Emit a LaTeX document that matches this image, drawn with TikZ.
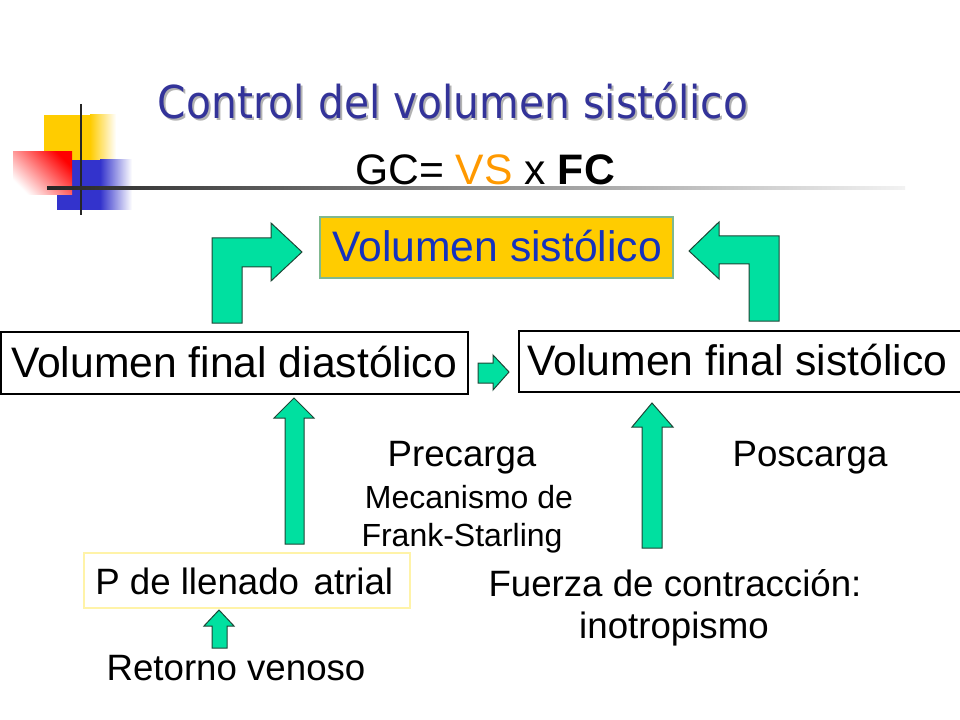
\documentclass[tikz,border=0pt]{standalone}
\usepackage{fontspec}
\setmainfont{Liberation Sans}
\newfontfamily\titlefont{DejaVu Sans}[FakeStretch=0.9]
\usetikzlibrary{shadings}

\definecolor{titleblue}{HTML}{333399}
\definecolor{vsgold}{HTML}{FFCC00}
\definecolor{vsblue}{HTML}{1432BE}
\definecolor{vsedge}{HTML}{7FB890}
\definecolor{arrowfill}{HTML}{00E0A0}
\definecolor{arrowedge}{HTML}{1E4636}
\definecolor{vsorange}{HTML}{FF9900}
\definecolor{decoblue}{HTML}{3333CC}
\definecolor{pedge}{HTML}{FFF3A8}

\begin{document}
\begin{tikzpicture}[x=0.75pt,y=-0.75pt,
  bigtext/.style={font=\fontsize{32}{38}\selectfont, inner sep=0pt, anchor=base},
  midtext/.style={font=\fontsize{27.5}{33}\selectfont, inner sep=0pt, anchor=base},
  smalltext/.style={font=\fontsize{24}{29}\selectfont, inner sep=0pt, anchor=base},
  titletext/.style={font=\titlefont\fontsize{34}{40}\selectfont, inner sep=0pt, anchor=base},
  boxframe/.style={draw=black, line width=1.2pt},
  blockarrow/.style={fill=arrowfill, draw=arrowedge, line width=0.75pt}]
  \useasboundingbox (0,0) rectangle (960,720);

  % corner decoration
  \fill[vsgold] (44,115) rectangle (90,160);
  \shade[left color=vsgold, right color=white] (90,115) rectangle (116,160);
  \fill[decoblue] (57,160) rectangle (100,210);
  \shade[left color=decoblue, right color=white] (100,160) rectangle (132,210);
  \shade[bottom color=white, top color=red, shading angle=-45] (13,152) rectangle (72,195);
  \draw[black!85, line width=2pt] (81,104) -- (81,215);
  \shade[left color=black!85, right color=black!5] (47,186.5) rectangle (905,189.5);

  % title
  \node[titletext, text=black!30] (titleshadow) at (455,121) {Control del volumen sistólico};
  \node[titletext, text=titleblue] (title) at (453,119) {Control del volumen sistólico};
  \node[bigtext] (gc) at (485,185) {GC= \textcolor{vsorange}{VS} x \textbf{FC}};

  % boxes
  \draw[fill=vsgold, draw=vsedge, line width=0.9pt] (320,217) rectangle (673,278);
  \node[bigtext, text=vsblue] (vs) at (497,262) {Volumen sistólico};
  \draw[boxframe] (1,332) rectangle (468,394);
  \node[bigtext] (vfd) at (234,377) {Volumen final diastólico};
  \draw[boxframe] (960,331) -| (519,392) -- (960,392);
  \node[bigtext] (vfs) at (737.5,375) {Volumen final sistólico};
  \draw[draw=pedge, line width=0.9pt] (84,553) rectangle (410,608);
  \node[midtext, anchor=base west] (pla) at (95,594) {P de llenado\hspace{0.12em} atrial};

  % block arrows
  \draw[blockarrow] (212,323) -- (212,238) -- (271,238) -- (271,223) -- (302,252) -- (271,281) -- (271,267) -- (242,267) -- (242,323) -- cycle;
  \draw[blockarrow] (779,321) -- (779,236) -- (719,236) -- (719,222) -- (689,251) -- (719,279) -- (719,264) -- (749,264) -- (749,321) -- cycle;
  \draw[blockarrow] (478,363) -- (493,363) -- (493,355) -- (509,372) -- (493,390) -- (493,383) -- (478,383) -- cycle;
  \draw[blockarrow] (285,544) -- (285,418) -- (274,418) -- (294,398) -- (314,418) -- (304,418) -- (304,544) -- cycle;
  \draw[blockarrow] (642,548) -- (642,427) -- (632,427) -- (652,403) -- (673,427) -- (662,427) -- (662,548) -- cycle;
  \draw[blockarrow] (212,648) -- (212,626) -- (204,626) -- (219,610) -- (234,626) -- (227,626) -- (227,648) -- cycle;

  % labels
  \node[midtext] (precarga) at (462,466) {Precarga};
  \node[midtext] (poscarga) at (810,466) {Poscarga};
  \node[smalltext] (mecanismo) at (469,508) {Mecanismo de};
  \node[smalltext] (frank) at (462,546) {Frank-Starling};
  \node[midtext] (fuerza) at (675,596) {Fuerza de contracción:};
  \node[midtext] (inotrop) at (674,638) {inotropismo};
  \node[midtext] (retorno) at (236,680) {Retorno venoso};
\end{tikzpicture}
\end{document}
